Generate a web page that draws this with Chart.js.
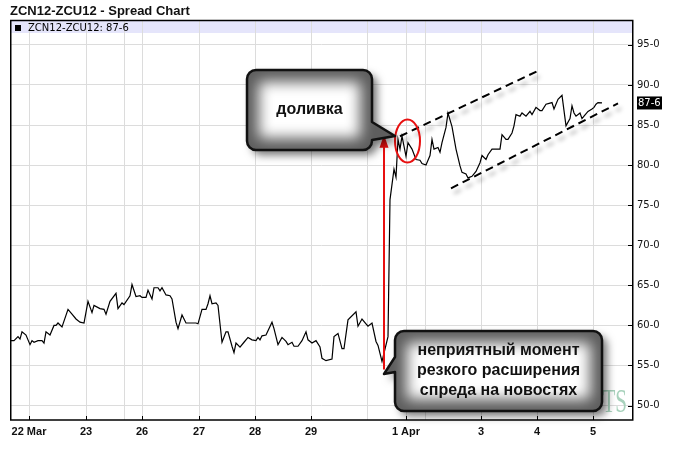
<!DOCTYPE html>
<html lang="ru">
<head>
<meta charset="UTF-8">
<title>ZCN12-ZCU12 - Spread Chart</title>
<script src="https://cdn.jsdelivr.net/npm/chart.js"></script>
<style>
    body { margin: 0; background: #fff; }
    canvas { display: block; }
</style>
</head>
<body>
<canvas id="spread" width="678" height="449"></canvas>
<script>
    // bar number (intraday bars, 22 Mar .. 5 Apr) and spread value
    const bars = [
        0, 2, 4, 5, 6, 8, 10, 11, 12, 14, 16, 17, 18, 20, 22, 23, 24, 26, 29, 31,
        33, 35, 37, 39, 41, 42, 45, 47, 48, 50, 53, 54, 56, 57, 60, 61, 63, 65, 66, 68,
        69, 71, 72, 74, 75, 76, 78, 80, 81, 83, 84, 86, 88, 90, 93, 94, 96, 98, 99, 100,
        101, 103, 104, 106, 108, 109, 111, 112, 113, 115, 117, 119, 121, 123, 124, 125, 126, 128, 131, 132,
        134, 136, 138, 139, 141, 142, 144, 146, 148, 149, 151, 153, 155, 156, 158, 161, 162, 164, 166, 167,
        169, 173, 174, 176, 178, 179, 181, 183, 184, 186, 189, 190, 192, 193, 194, 195, 196, 198, 199, 201,
        203, 205, 206, 208, 210, 211, 212, 214, 215, 216, 218, 219, 221, 223, 225, 226, 228, 229, 231, 233,
        235, 236, 238, 239, 241, 243, 245, 246, 248, 249, 251, 252, 253, 255, 256, 258, 260, 261, 263, 265,
        266, 268, 271, 272, 274, 276, 277, 278, 280, 281, 282, 283, 285, 286, 287, 289, 291, 292, 293, 294,
        296
    ];
    const spread = [
        58.1, 58.1, 58.6, 58.3, 59.2, 58.8, 57.6, 58.1, 57.9, 58.1, 58.1, 57.8, 59.2, 58.8, 60.0, 60.0, 60.3, 59.8, 62.0, 61.4,
        60.8, 60.4, 60.3, 63.0, 61.6, 62.5, 62.1, 62.0, 61.4, 63.0, 64.0, 62.1, 62.8, 62.6, 63.7, 65.1, 63.6, 63.7, 63.5, 63.5,
        64.4, 63.3, 64.7, 64.7, 64.3, 64.7, 63.8, 63.7, 63.3, 60.4, 59.6, 61.3, 60.3, 60.3, 60.3, 60.2, 62.0, 62.0, 62.7, 63.7,
        62.7, 62.8, 62.5, 57.9, 59.2, 59.2, 57.4, 56.6, 57.8, 57.3, 57.9, 58.5, 58.2, 58.1, 58.5, 58.2, 58.7, 58.8, 60.4, 59.6,
        57.6, 58.5, 58.0, 57.6, 57.9, 57.4, 57.4, 58.1, 59.2, 58.2, 57.8, 58.1, 57.3, 55.9, 55.6, 55.8, 58.6, 59.0, 57.1, 57.1,
        60.7, 61.7, 59.9, 60.8, 60.2, 59.9, 60.3, 58.0, 57.5, 55.5, 58.6, 75.7, 79.5, 78.5, 83.2, 82.0, 83.6, 81.1, 82.8, 82.0,
        80.7, 80.6, 80.2, 80.0, 81.2, 83.2, 82.0, 82.2, 81.6, 82.8, 84.7, 86.5, 84.8, 82.0, 79.9, 79.1, 78.9, 78.4, 78.6, 79.2,
        80.3, 81.2, 80.7, 81.3, 82.0, 82.0, 82.0, 83.8, 83.2, 83.2, 84.0, 84.9, 86.3, 86.1, 86.5, 86.1, 86.7, 86.3, 87.2, 86.8,
        86.8, 87.6, 87.8, 87.0, 88.2, 88.7, 86.8, 84.9, 85.8, 87.4, 86.5, 86.1, 86.5, 85.8, 86.1, 86.7, 87.0, 87.2, 87.6, 87.8,
        87.75
    ];
    const tickBars = [9.5, 38, 57, 66, 94.5, 122.5, 150.5, 178.5, 198, 207.5, 235.5, 263.5, 291.5];
    const tickLabels = ['22 Mar', '23', '', '26', '27', '28', '29', '', '1 Apr', '', '3', '4', '5'];
    const priceTicks = [50, 55, 60, 65, 70, 75, 80, 85, 90, 95];
    const lastValue = 87.75;
    const lastLabel = '87-6';

    function calloutPath(ctx, x, y, w, h, r, tail) {
        ctx.beginPath();
        ctx.moveTo(x + r, y);
        ctx.lineTo(x + w - r, y);
        ctx.arcTo(x + w, y, x + w, y + r, r);
        if (tail.side === 'right') {
            ctx.lineTo(x + w, tail.y1);
            ctx.lineTo(tail.tx, tail.ty);
            ctx.lineTo(x + w, tail.y2);
        }
        ctx.lineTo(x + w, y + h - r);
        ctx.arcTo(x + w, y + h, x + w - r, y + h, r);
        ctx.lineTo(x + r, y + h);
        ctx.arcTo(x, y + h, x, y + h - r, r);
        if (tail.side === 'left') {
            ctx.lineTo(x, tail.y2);
            ctx.lineTo(tail.tx, tail.ty);
            ctx.lineTo(x, tail.y1);
        }
        ctx.lineTo(x, y + r);
        ctx.arcTo(x, y, x + r, y, r);
        ctx.closePath();
    }

    function drawCallout(ctx, box, lines) {
        const { x, y, w, h, tail } = box;
        ctx.save();
        ctx.shadowColor = 'rgba(0,0,0,0.55)';
        ctx.shadowBlur = 8;
        ctx.shadowOffsetX = 5;
        ctx.shadowOffsetY = 5;
        calloutPath(ctx, x, y, w, h, 9, tail);
        ctx.fillStyle = '#5e5e5e';
        ctx.fill();
        ctx.restore();

        ctx.save();
        calloutPath(ctx, x, y, w, h, 9, tail);
        ctx.clip();
        ctx.filter = 'blur(7px)';
        ctx.fillStyle = '#fff';
        ctx.fillRect(x + 12, y + 12, w - 24, h - 24);
        ctx.restore();

        ctx.save();
        calloutPath(ctx, x, y, w, h, 9, tail);
        ctx.lineWidth = 2.5;
        ctx.strokeStyle = '#111';
        ctx.lineJoin = 'round';
        ctx.stroke();
        ctx.fillStyle = '#111';
        ctx.font = 'bold 16px Arial, "Liberation Sans"';
        ctx.textAlign = 'center';
        ctx.textBaseline = 'middle';
        const cx = x + w / 2;
        const top = y + h / 2 - (lines.length - 1) * 10;
        lines.forEach((t, i) => ctx.fillText(t, cx, top + i * 20));
        ctx.restore();
    }

    const decor = {
        id: 'decor',
        beforeDraw(chart) {
            const { ctx, chartArea: a } = chart;
            ctx.save();
            ctx.fillStyle = '#fff';
            ctx.fillRect(0, 0, chart.width, chart.height);
            ctx.fillStyle = '#e5e5fb';
            ctx.fillRect(a.left, a.top, a.right - a.left, 13);
            ctx.fillStyle = '#111';
            ctx.font = 'bold 13px Arial, "Liberation Sans"';
            ctx.textBaseline = 'alphabetic';
            ctx.fillText('ZCN12-ZCU12 - Spread Chart', 10, 15);
            ctx.restore();
        },
        afterDraw(chart) {
            const { ctx, chartArea: a } = chart;
            const xs = chart.scales.x, ys = chart.scales.y;
            const px = v => xs.getPixelForValue(v);
            const py = v => ys.getPixelForValue(v);
            ctx.save();

            // frame
            ctx.strokeStyle = '#000';
            ctx.lineWidth = 1.5;
            ctx.strokeRect(a.left + 0.75, a.top + 0.5, a.right - a.left - 1, a.bottom - a.top - 0.5);

            // inner tick marks
            ctx.lineWidth = 1;
            priceTicks.forEach(v => {
                const y = Math.round(py(v)) + 0.5;
                ctx.beginPath(); ctx.moveTo(a.right - 5, y); ctx.lineTo(a.right, y); ctx.stroke();
            });
            tickBars.forEach((v, i) => {
                if (!tickLabels[i]) return;
                const x = Math.round(px(v)) + 0.5;
                ctx.beginPath(); ctx.moveTo(x, a.bottom - 4); ctx.lineTo(x, a.bottom); ctx.stroke();
            });

            // legend line
            ctx.fillStyle = '#000';
            ctx.fillRect(a.left + 5, a.top + 5, 6, 6);
            ctx.font = '10px "DejaVu Sans"';
            ctx.textBaseline = 'alphabetic';
            ctx.fillText('ZCN12-ZCU12: 87-6', a.left + 18, a.top + 11);

            // last value tag
            const ly = py(lastValue);
            ctx.fillRect(a.right + 4, ly - 6.5, 25, 13);
            ctx.fillStyle = '#fff';
            ctx.textBaseline = 'middle';
            ctx.fillText(lastLabel, a.right + 5, ly + 0.5);

            // watermark
            ctx.save();
            ctx.fillStyle = '#a8d2bc';
            ctx.font = '34px "Liberation Serif", serif';
            ctx.textBaseline = 'alphabetic';
            ctx.translate(627, 412);
            ctx.scale(0.62, 1);
            ctx.textAlign = 'right';
            ctx.fillText('TS', 0, 0);
            ctx.restore();

            // trend channel
            ctx.save();
            ctx.strokeStyle = '#000';
            ctx.lineWidth = 2;
            ctx.setLineDash([8, 5]);
            ctx.shadowColor = 'rgba(0,0,0,0.35)';
            ctx.shadowBlur = 4;
            ctx.shadowOffsetX = 3;
            ctx.shadowOffsetY = 5;
            [[195, 83.6, 263.5, 91.7], [220.5, 77.1, 304, 87.7]].forEach(([x1, y1, x2, y2]) => {
                ctx.beginPath();
                ctx.moveTo(px(x1), py(y1));
                ctx.lineTo(px(x2), py(y2));
                ctx.stroke();
            });
            ctx.restore();

            // red ellipse around the top-up point
            ctx.strokeStyle = '#e81010';
            ctx.lineWidth = 2;
            ctx.beginPath();
            ctx.ellipse(px(198.75), py(83.0), 12.5, 21.5, 0, 0, Math.PI * 2);
            ctx.stroke();

            // red arrow along the jump
            const ax = px(187), ay1 = py(54.5), ay2 = py(83.8);
            ctx.beginPath();
            ctx.moveTo(ax, ay1); ctx.lineTo(ax, ay2 + 11);
            ctx.stroke();
            ctx.fillStyle = '#e81010';
            ctx.beginPath();
            ctx.moveTo(ax, ay2); ctx.lineTo(ax - 4.5, ay2 + 13); ctx.lineTo(ax + 4.5, ay2 + 13);
            ctx.closePath(); ctx.fill();

            ctx.restore();

            drawCallout(ctx, { x: 247, y: 70, w: 125, h: 80,
                tail: { side: 'right', y1: 122, y2: 140, tx: 395, ty: 136 } }, ['доливка']);
            drawCallout(ctx, { x: 395, y: 331, w: 207, h: 80,
                tail: { side: 'left', y1: 357, y2: 372, tx: 384, ty: 374 } },
                ['неприятный момент', 'резкого расширения', 'спреда на новостях']);
        }
    };

    const ctx = document.getElementById('spread').getContext('2d');
    new Chart(ctx, {
        type: 'line',
        data: {
            datasets: [{
                label: 'ZCN12-ZCU12',
                data: bars.map((b, i) => ({ x: b, y: spread[i] })),
                borderColor: '#000',
                borderWidth: 1.2,
                pointRadius: 0,
                tension: 0,
                fill: false
            }]
        },
        options: {
            responsive: false,
            animation: false,
            layout: { padding: { top: 20, left: 10, right: 0, bottom: 0 } },
            plugins: { legend: { display: false }, tooltip: { enabled: false } },
            scales: {
                x: {
                    type: 'linear',
                    min: 0,
                    max: 311.5,
                    border: { display: false },
                    grid: { color: '#dcdcdc', drawTicks: false },
                    afterBuildTicks: s => { s.ticks = tickBars.map(v => ({ value: v })); },
                    afterFit: s => { s.height = 29; },
                    ticks: {
                        autoSkip: false, maxRotation: 0, padding: 5, color: '#111',
                        font: { family: 'Arial, "Liberation Sans"', size: 11, weight: 'bold' },
                        callback: (v, i) => tickLabels[i]
                    }
                },
                y: {
                    position: 'right',
                    min: 48.2,
                    max: 98.1,
                    border: { display: false },
                    grid: { color: '#dcdcdc', drawTicks: false },
                    afterBuildTicks: s => { s.ticks = priceTicks.map(v => ({ value: v })); },
                    afterFit: s => { s.width = 45; },
                    ticks: {
                        padding: 4, color: '#111',
                        font: { family: '"DejaVu Sans"', size: 10 },
                        callback: v => v + '-0'
                    }
                }
            }
        },
        plugins: [decor]
    });
</script>
</body>
</html>
